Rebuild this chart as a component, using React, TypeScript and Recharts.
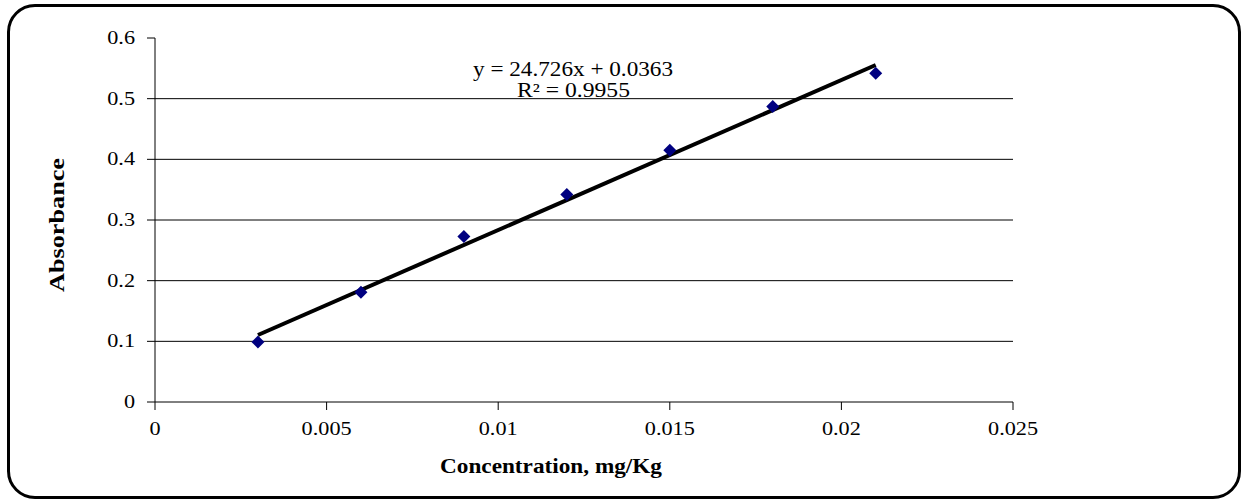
import { ScatterChart, Scatter, XAxis, YAxis, ReferenceLine } from "recharts";

const concentration = [0.003, 0.006, 0.009, 0.012, 0.015, 0.018, 0.021];
const absorbance = [0.099, 0.181, 0.273, 0.342, 0.415, 0.487, 0.542];
const trendX = [0.003, 0.021];
const trendY = [0.1105, 0.5555];
const xTicks = [0, 0.005, 0.01, 0.015, 0.02, 0.025];
const yTicks = [0, 0.1, 0.2, 0.3, 0.4, 0.5, 0.6];
const gridValues = [0.1, 0.2, 0.3, 0.4, 0.5];

const points = concentration.map((x, i) => ({ x, y: absorbance[i] }));
const trend = trendX.map((x, i) => ({ x, y: trendY[i] }));

const font = "'Liberation Serif', 'Times New Roman', serif";

const Diamond = (props: any) => {
  const { cx, cy } = props;
  const r = 6.5;
  return (
    <path
      d={`M${cx},${cy - r}L${cx + r},${cy}L${cx},${cy + r}L${cx - r},${cy}Z`}
      fill="#000080"
    />
  );
};

const XTick = (props: any) => {
  const { x, y, payload } = props;
  return (
    <g transform={`translate(${x},${y + 25}) scale(1.17,1)`}>
      <text textAnchor="middle" fontFamily={font} fontSize={19} fill="#000">
        {String(payload.value)}
      </text>
    </g>
  );
};

const YTick = (props: any) => {
  const { x, y, payload } = props;
  return (
    <g transform={`translate(${x - 12},${y + 6}) scale(1.17,1)`}>
      <text textAnchor="end" fontFamily={font} fontSize={19} fill="#000">
        {String(payload.value)}
      </text>
    </g>
  );
};

export default function App() {
  return (
    <div style={{ position: "absolute", left: 0, top: 0, width: 1242, height: 499, background: "#fff" }}>
      <div
        style={{
          position: "absolute",
          left: 7,
          top: 4,
          width: 1228,
          height: 489,
          border: "3px solid #000",
          borderRadius: 28,
        }}
      />
      <ScatterChart
        width={1242}
        height={499}
        margin={{ top: 38, right: 229, bottom: 0, left: 0 }}
        style={{ position: "absolute", left: 0, top: 0 }}
      >
        <XAxis
          type="number"
          dataKey="x"
          domain={[0, 0.025]}
          ticks={xTicks}
          height={97}
          tickSize={8}
          tickMargin={0}
          stroke="#000"
          tick={<XTick />}
        />
        <YAxis
          type="number"
          dataKey="y"
          domain={[0, 0.6]}
          ticks={yTicks}
          width={155}
          tickSize={8}
          tickMargin={0}
          stroke="#000"
          tick={<YTick />}
        />
        {gridValues.map((v) => (
          <ReferenceLine key={v} y={v} stroke="#000" strokeWidth={1} ifOverflow="visible" />
        ))}
        <Scatter data={trend} line={{ stroke: "#000", strokeWidth: 4 }} shape={() => null} isAnimationActive={false} />
        <Scatter data={points} shape={Diamond} isAnimationActive={false} />
        <text x={473} y={76} textLength={200} lengthAdjust="spacingAndGlyphs" fontFamily={font} fontSize={20} fill="#000">
          y = 24.726x + 0.0363
        </text>
        <text x={517} y={97} textLength={113} lengthAdjust="spacingAndGlyphs" fontFamily={font} fontSize={20} fill="#000">
          R² = 0.9955
        </text>
        <text x={440} y={473} textLength={222} lengthAdjust="spacingAndGlyphs" fontFamily={font} fontSize={21} fontWeight="bold" fill="#000">
          Concentration, mg/Kg
        </text>
        <text
          transform="translate(64,292) rotate(-90)"
          textLength={134}
          lengthAdjust="spacingAndGlyphs"
          fontFamily={font}
          fontSize={20}
          fontWeight="bold"
          fill="#000"
        >
          Absorbance
        </text>
      </ScatterChart>
    </div>
  );
}
